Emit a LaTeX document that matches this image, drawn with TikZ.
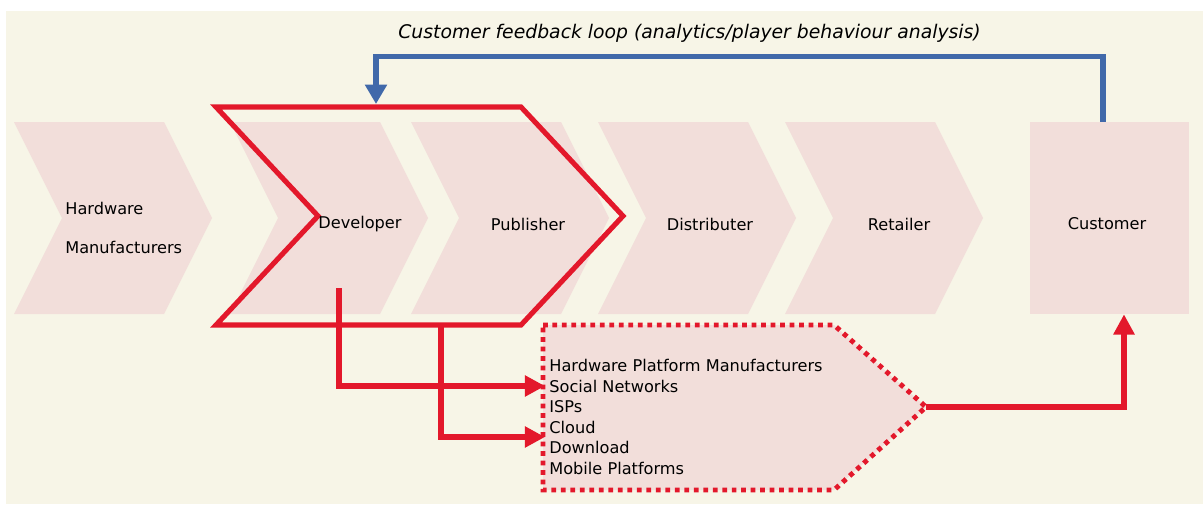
\documentclass[tikz,border=0pt]{standalone}
\usepackage{fontspec}
\setmainfont{DejaVu Sans}
\usetikzlibrary{arrows.meta}
\definecolor{cream}{HTML}{F7F5E7}
\definecolor{pinkfill}{HTML}{F2DEDA}
\definecolor{redline}{HTML}{E3182B}
\definecolor{blueline}{HTML}{4169AA}
\newcommand\chevshape[1]{\fill[chev] (#1,122) -- ++(150,0) -- ++(48,96) -- ++(-48,96) -- ++(-150,0) -- ++(48,-96) -- cycle;}
\begin{document}
\begin{tikzpicture}[x=0.02cm,y=-0.02cm,
  chev/.style={fill=pinkfill},
  lbl/.style={font=\fontsize{9.2}{11}\selectfont, inner sep=0pt},
  redarrow/.style={draw=redline, line width=2.9pt, -{Triangle[length=11.5pt,width=11.5pt]}},
  bluearrow/.style={draw=blueline, line width=3.2pt, -{Triangle[length=11pt,width=12pt]}},
  redoutline/.style={draw=redline, line width=2.9pt, line join=miter},
  dottedbox/.style={draw=redline, fill=pinkfill, line width=2.8pt, dash pattern=on 2.7pt off 2.7pt}]
\useasboundingbox (0,0) rectangle (1203,504);
\fill[white] (0,0) rectangle (1203,504);
\fill[cream] (6,11) rectangle (1203,504);
% chevrons
\chevshape{14}
\chevshape{230}
\chevshape{411}
\chevshape{598}
\chevshape{785}
\node[fill=pinkfill, minimum width=3.18cm, minimum height=3.84cm, inner sep=0pt] (cust) at (1109.5,218) {};
% red outline around developer + publisher
\draw[redoutline] (216,107) coordinate (rtl) -- (521,107) coordinate (rtr) -- (623,216) coordinate (rtip)
  -- (521,325) coordinate (rbr) -- (216,325) coordinate (rbl) -- (318,216) coordinate (rnotch) -- cycle;
% dotted box
\draw[dottedbox] (543,325) coordinate (dtl) -- (834,325) coordinate (dtr) -- (926,407) coordinate (dtip)
  -- (834,490) coordinate (dbr) -- (543,490) coordinate (dbl) -- cycle;
% labels
\node[lbl, anchor=west, align=left, font=\fontsize{9.2}{22.7}\selectfont] (hw) at (65,228) {Hardware\\Manufacturers};
\node[lbl] (dev) at (360,224) {Developer};
\node[lbl] (pub) at (528,224) {Publisher};
\node[lbl] (dist) at (710,224) {Distributer};
\node[lbl] (ret) at (899,224) {Retailer};
\node[lbl] (custlbl) at (1107,224) {Customer};
\node[font=\fontsize{10.7}{12}\selectfont\itshape, anchor=west, inner sep=0pt] (title) at (398,33)
  {Customer feedback loop (analytics/player behaviour analysis)};
\node[lbl, anchor=north west, align=left, font=\fontsize{9.2}{11.7}\selectfont] (list) at (549,359)
  {Hardware Platform Manufacturers\\Social Networks\\ISPs\\Cloud\\Download\\Mobile Platforms};
% connector coordinates
\coordinate (devsrc) at (339,288);
\coordinate (pubsrc) at (441,325);
\coordinate (in1) at (545,386);
\coordinate (in2) at (545,437);
\coordinate (fbin) at (376,104);
% connectors
\draw[bluearrow] ([xshift=-0.13cm]cust.north) -- ++(0,-65) -| (fbin);
\draw[redarrow] (devsrc) |- (in1);
\draw[redarrow] (pubsrc) |- (in2);
\draw[redarrow] (dtip) -| ([xshift=0.29cm]cust.south);
\end{tikzpicture}
\end{document}
